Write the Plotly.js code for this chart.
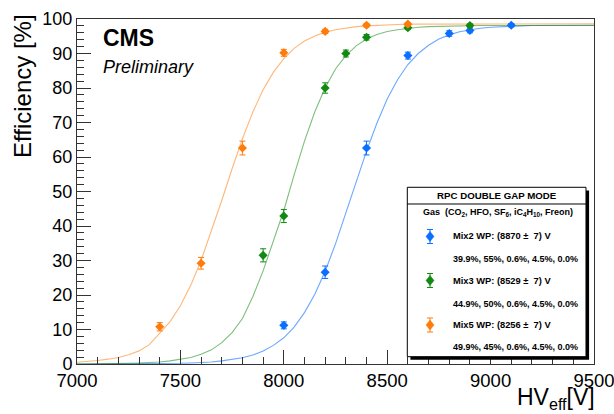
<!DOCTYPE html>
<html>
<head>
<meta charset="utf-8">
<script src="https://cdn.plot.ly/plotly-3.0.1.min.js"></script>
<style>html,body{margin:0;padding:0;background:#fff;}#chart{width:614px;height:414px;}</style>
</head>
<body>
<div id="chart"></div>
<script>
// ---- measured points ----
const hvMix2  = [8000, 8200, 8400, 8600, 8800, 8900, 9100];
const effMix2 = [11.2, 26.6, 62.6, 89.4, 95.8, 96.7, 98.2];
const errMix2 = [1.0, 1.8, 2.0, 1.0, 0.8, 0.7, 0.5];

const hvMix3  = [7900, 8000, 8200, 8300, 8400, 8600, 8900];
const effMix3 = [31.5, 42.9, 80.0, 90.0, 94.7, 97.5, 98.1];
const errMix3 = [1.9, 1.9, 1.5, 1.0, 0.8, 0.6, 0.5];

const hvMix5  = [7400, 7600, 7800, 8000, 8200, 8400, 8600];
const effMix5 = [10.8, 29.2, 62.6, 90.2, 96.4, 98.2, 98.5];
const errMix5 = [1.2, 1.7, 2.0, 1.0, 0.6, 0.5, 0.5];

// ---- fitted curves ----
const fitHV = [7000,7050,7100,7150,7200,7250,7300,7350,7400,7450,7500,7550,7600,7650,7700,7750,7800,7850,7900,7950,
               8000,8050,8100,8150,8200,8250,8300,8350,8400,8450,8500,8550,8600,8650,8700,8750,8800,8850,8900,8950,
               9000,9050,9100,9150,9200,9250,9300,9350,9400,9450,9500];
const fitMix5 = [0.5,0.7,1.0,1.4,1.9,2.7,3.8,5.6,8.8,12.3,16.9,22.8,30.0,38.4,47.4,56.6,65.3,73.0,79.5,84.6,
                 88.5,91.5,93.6,95.1,96.2,96.9,97.4,97.8,98.0,98.2,98.3,98.4,98.5,98.5,98.5,98.6,98.6,98.6,98.6,98.6,
                 98.6,98.6,98.6,98.6,98.6,98.6,98.6,98.6,98.6,98.6,98.6];
const fitMix3 = [0.0,0.0,0.0,0.1,0.1,0.2,0.3,0.4,0.6,0.9,1.3,1.9,2.8,4.1,6.2,9.1,13.2,19.5,27.0,35.5,
                 44.5,54.8,64.6,73.1,80.1,85.5,89.4,92.2,94.2,95.5,96.4,96.9,97.3,97.6,97.8,97.9,97.9,98.0,98.0,98.1,
                 98.1,98.1,98.1,98.1,98.1,98.1,98.1,98.1,98.1,98.1,98.1];
const fitMix2 = [0.0,0.0,0.0,0.0,0.0,0.0,0.0,0.1,0.1,0.1,0.2,0.3,0.4,0.6,0.9,1.3,1.8,2.6,3.8,5.4,
                 7.6,10.7,14.9,20.2,26.9,34.8,43.6,52.8,61.7,69.8,76.8,82.4,86.8,90.0,92.4,94.2,95.4,96.3,96.9,97.3,
                 97.6,97.8,97.9,98.0,98.1,98.1,98.2,98.2,98.2,98.2,98.2];

const xTicks = [7000, 7500, 8000, 8500, 9000, 9500];
const yTicks = [0, 10, 20, 30, 40, 50, 60, 70, 80, 90, 100];

const cBlue = '#0a6eff', cGreen = '#128a12', cOrange = '#ff7b0a';
const FONT = 'Liberation Sans, Arial, Helvetica, sans-serif';

function fit(y, col){ return {x: fitHV, y: y, type:'scatter', mode:'lines', line:{color: col, width:1.1}, hoverinfo:'skip'}; }
function pts(x, y, e, col){ return {x:x, y:y, type:'scatter', mode:'markers',
  marker:{symbol:'diamond', size:7, color:col},
  error_y:{type:'data', array:e, visible:true, color:col, thickness:1, width:3}}; }

const data = [
  fit(fitMix2, 'rgba(10,110,255,0.6)'),
  fit(fitMix3, 'rgba(18,138,18,0.55)'),
  fit(fitMix5, 'rgba(255,123,10,0.55)'),
  pts(hvMix2, effMix2, errMix2, cBlue),
  pts(hvMix3, effMix3, errMix3, cGreen),
  pts(hvMix5, effMix5, errMix5, cOrange)
];

// legend geometry in paper coordinates
const L = {x0:0.6389, x1:0.9845, y0:0.0212, y1:0.5122};
const mx = 0.6828;
const rows = [0.3696, 0.2420, 0.1130];
const rows2 = [0.3043, 0.1739, 0.0493];
const cols = [cBlue, cGreen, cOrange];

const shapes = [
  {type:'rect', xref:'paper', yref:'paper', x0:L.x0+0.006, x1:L.x1+0.006, y0:L.y0-0.009, y1:L.y1-0.009,
   fillcolor:'#000', line:{width:0}, layer:'above'},
  {type:'rect', xref:'paper', yref:'paper', x0:L.x0, x1:L.x1, y0:L.y0, y1:L.y1,
   fillcolor:'#fff', line:{color:'#000', width:1}, layer:'above'},
  {type:'line', xref:'paper', yref:'paper', x0:L.x0, x1:L.x1, y0:0.4638, y1:0.4638,
   line:{color:'#000', width:1}, layer:'above'}
];
rows.forEach((ry, i) => {
  shapes.push({type:'path', xref:'paper', yref:'paper', xsizemode:'pixel', ysizemode:'pixel',
    xanchor:mx, yanchor:ry, path:'M0,-7 L0,7 M-3,7 L3,7 M-3,-7 L3,-7',
    line:{color:cols[i], width:1}, layer:'above'});
  shapes.push({type:'path', xref:'paper', yref:'paper', xsizemode:'pixel', ysizemode:'pixel',
    xanchor:mx, yanchor:ry, path:'M0,5 L4,0 L0,-5 L-4,0 Z',
    fillcolor:cols[i], line:{color:cols[i], width:0.5}, layer:'above'});
});

const mixNames = ['Mix2 WP: (8870 \u00b1  7) V', 'Mix3 WP: (8529 \u00b1  7) V', 'Mix5 WP: (8256 \u00b1  7) V'];
const mixComp = ['39.9%, 55%, 0.6%, 4.5%, 0.0%', '44.9%, 50%, 0.6%, 4.5%, 0.0%', '49.9%, 45%, 0.6%, 4.5%, 0.0%'];

const ann = [
  {text:'<b>CMS</b>', xref:'paper', yref:'paper', x:0.046, y:0.9435, xanchor:'left', yanchor:'middle',
   showarrow:false, font:{family:FONT, size:23, color:'#000'}},
  {text:'<i>Preliminary</i>', xref:'paper', yref:'paper', x:0.046, y:0.862, xanchor:'left', yanchor:'middle',
   showarrow:false, font:{family:FONT, size:18, color:'#000'}},
  {text:'Efficiency [%]', xref:'paper', yref:'paper', x:-0.105, y:0.805, xanchor:'center', yanchor:'middle',
   textangle:-90, showarrow:false, font:{family:FONT, size:24, color:'#000'}},
  {text:'HV<sub>eff</sub>[V]', xref:'paper', yref:'paper', x:1.005, y:-0.101, xanchor:'right', yanchor:'middle',
   showarrow:false, font:{family:FONT, size:23, color:'#000'}},
  {text:'<b>RPC DOUBLE GAP MODE</b>', xref:'paper', yref:'paper', x:(L.x0+L.x1)/2, y:0.4884, xanchor:'center', yanchor:'middle',
   showarrow:false, font:{family:FONT, size:9.7, color:'#000'}},
  {text:'<b>Gas  (CO<sub>2</sub>, HFO, SF<sub>6</sub>, iC<sub>4</sub>H<sub>10</sub>, Freon)</b>', xref:'paper', yref:'paper',
   x:0.666, y:0.4377, xanchor:'left', yanchor:'middle', showarrow:false, font:{family:FONT, size:9, color:'#000'}}
];
rows.forEach((ry, i) => {
  ann.push({text:'<b>'+mixNames[i]+'</b>', xref:'paper', yref:'paper', x:0.7235, y:ry, xanchor:'left', yanchor:'middle',
    showarrow:false, font:{family:FONT, size:9.3, color:'#000'}});
  ann.push({text:'<b>'+mixComp[i]+'</b>', xref:'paper', yref:'paper', x:0.7235, y:rows2[i], xanchor:'left', yanchor:'middle',
    showarrow:false, font:{family:FONT, size:9, color:'#000'}});
});

const axisCommon = {showgrid:false, zeroline:false, showline:true, mirror:true, linecolor:'#333', linewidth:1,
  ticks:'inside', ticklen:14, tickcolor:'#333', tickwidth:1, ticklabeloverflow:'allow',
  tickfont:{family:FONT, size:18, color:'#000'}};

const layout = {
  width:614, height:414,
  margin:{l:77, r:20, t:19, b:50, pad:0},
  paper_bgcolor:'#fff', plot_bgcolor:'#fff',
  showlegend:false,
  font:{family:FONT},
  xaxis: Object.assign({}, axisCommon, {range:[7000, 9500], tickmode:'array', tickvals:xTicks, ticktext:xTicks.map(String),
    tickfont:{family:FONT, size:18.5, color:'#000'},
    minor:{ticks:'inside', ticklen:7, dtick:100, tick0:7000, tickcolor:'#333', showgrid:false}}),
  yaxis: Object.assign({}, axisCommon, {range:[0, 100], tickmode:'array', tickvals:yTicks, ticktext:yTicks.map(String),
    minor:{ticks:'inside', ticklen:7, dtick:2, tick0:0, tickcolor:'#333', showgrid:false}}),
  shapes: shapes,
  annotations: ann
};

Plotly.newPlot('chart', data, layout, {staticPlot:true, displayModeBar:false});
</script>
</body>
</html>
